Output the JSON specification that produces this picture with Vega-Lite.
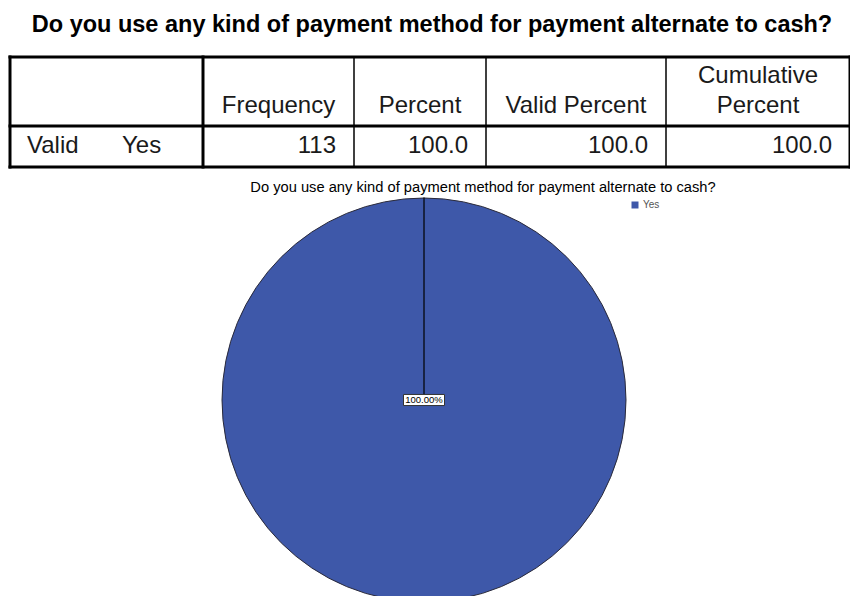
{
  "$schema": "https://vega.github.io/schema/vega-lite/v6.json",
  "padding": {"top": 12, "left": 0, "right": 0, "bottom": 0},
  "autosize": {"type": "pad"},
  "background": "white",
  "spacing": 6,
  "config": {"view": {"stroke": null}, "font": "Liberation Sans"},
  "vconcat": [
    {
      "width": 850,
      "height": 130,
      "title": {"text": "Do you use any kind of payment method for payment alternate to cash?", "fontSize": 23.5, "fontWeight": "bold", "font": "Liberation Sans", "color": "black", "anchor": "middle", "dx": 7, "offset": 8},
      "layer": [
        {
          "data": {"values": [{"r": 0}, {"r": 1}, {"r": 2}]},
          "mark": {"type": "rule", "color": "black", "strokeWidth": 3, "strokeCap": "square"},
          "encoding": {
            "x": {"datum": 0, "type": "quantitative", "scale": {"type": "linear", "domain": [0, 1, 2, 3, 4, 5], "range": [10, 203, 354, 486, 666, 850], "nice": false, "zero": false}, "axis": null},
            "x2": {"datum": 5},
            "y": {"field": "r", "type": "quantitative", "scale": {"type": "linear", "domain": [0, 1, 2], "range": [13, 82, 123], "nice": false, "zero": false}, "axis": null}
          }
        },
        {
          "data": {"values": [{"c": 0}, {"c": 1}, {"c": 5}]},
          "mark": {"type": "rule", "color": "black", "strokeWidth": 3, "strokeCap": "square"},
          "encoding": {
            "x": {"field": "c", "type": "quantitative"},
            "y": {"datum": 0, "type": "quantitative"},
            "y2": {"datum": 2}
          }
        },
        {
          "data": {"values": [{"c": 2}, {"c": 3}, {"c": 4}]},
          "mark": {"type": "rule", "color": "black", "strokeWidth": 1.5},
          "encoding": {
            "x": {"field": "c", "type": "quantitative"},
            "y": {"datum": 0, "type": "quantitative"},
            "y2": {"datum": 2}
          }
        },
        {
          "data": {"values": [{"c": 1.5, "label": "Frequency"}, {"c": 2.5, "label": "Percent"}, {"c": 3.5, "label": "Valid Percent"}, {"c": 4.5, "label": "Percent"}]},
          "mark": {"type": "text", "fontSize": 24, "align": "center", "baseline": "bottom", "dy": -8, "color": "#1a1a1a"},
          "encoding": {
            "x": {"field": "c", "type": "quantitative"},
            "y": {"datum": 1, "type": "quantitative"},
            "text": {"field": "label"}
          }
        },
        {
          "data": {"values": [{"c": 4.5, "label": "Cumulative"}]},
          "mark": {"type": "text", "fontSize": 24, "align": "center", "baseline": "bottom", "dy": -38, "color": "#1a1a1a"},
          "encoding": {
            "x": {"field": "c", "type": "quantitative"},
            "y": {"datum": 1, "type": "quantitative"},
            "text": {"field": "label"}
          }
        },
        {
          "data": {"values": [{"c": 2, "v": "113"}, {"c": 3, "v": "100.0"}, {"c": 4, "v": "100.0"}, {"c": 5, "v": "100.0"}]},
          "mark": {"type": "text", "fontSize": 24, "align": "right", "baseline": "bottom", "dx": -18, "dy": -9, "color": "#1a1a1a"},
          "encoding": {
            "x": {"field": "c", "type": "quantitative"},
            "y": {"datum": 2, "type": "quantitative"},
            "text": {"field": "v"}
          }
        },
        {
          "data": {"values": [{"c": 0, "v": "Valid"}]},
          "mark": {"type": "text", "fontSize": 24, "align": "left", "baseline": "bottom", "dx": 17, "dy": -9, "color": "#1a1a1a"},
          "encoding": {
            "x": {"field": "c", "type": "quantitative"},
            "y": {"datum": 2, "type": "quantitative"},
            "text": {"field": "v"}
          }
        },
        {
          "data": {"values": [{"c": 0, "v": "Yes"}]},
          "mark": {"type": "text", "fontSize": 24, "align": "left", "baseline": "bottom", "dx": 112, "dy": -9, "color": "#1a1a1a"},
          "encoding": {
            "x": {"field": "c", "type": "quantitative"},
            "y": {"datum": 2, "type": "quantitative"},
            "text": {"field": "v"}
          }
        }
      ]
    },
    {
      "width": 848,
      "height": 432,
      "title": {"text": "Do you use any kind of payment method for payment alternate to cash?", "fontSize": 14.7, "fontWeight": "normal", "font": "Liberation Sans", "color": "black", "anchor": "middle", "dx": 59, "dy": 15, "offset": 4},
      "data": {"values": [{"answer": "Yes", "count": 113, "percent": "100.00%"}]},
      "layer": [
        {
          "mark": {"type": "arc", "outerRadius": 202, "stroke": "#2a2a3a", "strokeWidth": 1},
          "encoding": {
            "theta": {"field": "count", "type": "quantitative", "stack": true},
            "color": {
              "field": "answer", "type": "nominal",
              "scale": {"range": ["#3E58A9"]},
              "legend": {"orient": "none", "legendX": 630, "legendY": 156, "title": null, "symbolType": "square", "symbolSize": 49, "symbolStrokeWidth": 0, "labelFontSize": 10, "labelColor": "#555555", "labelOffset": 3, "padding": 0}
            }
          }
        },
        {
          "mark": {"type": "arc", "outerRadius": 202, "theta": 0, "theta2": 0.0001, "stroke": "black", "strokeWidth": 1.2, "fill": "black"},
          "encoding": {}
        },
        {
          "mark": {"type": "point", "shape": "M-1,-0.27H1V0.27H-1Z", "size": 1681, "filled": true, "fill": "white", "stroke": "#333333", "strokeWidth": 1, "opacity": 1},
          "encoding": {}
        },
        {
          "mark": {"type": "text", "fontSize": 9.5, "align": "center", "baseline": "middle", "color": "black"},
          "encoding": {"text": {"field": "percent"}}
        }
      ]
    }
  ]
}
